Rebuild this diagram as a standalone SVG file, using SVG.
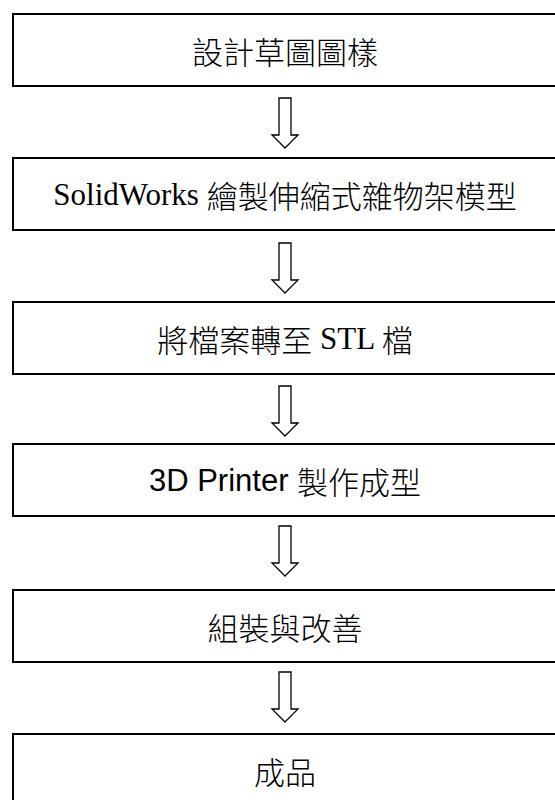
<svg xmlns="http://www.w3.org/2000/svg" width="555" height="800" viewBox="0 0 555 800">
  <style>
    .box { fill: #ffffff; stroke: #000000; stroke-width: 2; }
    .arrow { fill: #ffffff; stroke: #000000; stroke-width: 1.3; stroke-linejoin: miter; }
    .lbl { font-family: "Liberation Serif", "Noto Sans CJK TC", serif; font-size: 31px; fill: #000000; text-anchor: middle; dominant-baseline: central; }
    .sans { font-family: "Liberation Sans", "Noto Sans CJK TC", sans-serif; }
    .cjk { font-family: "Noto Sans CJK TC", serif; font-weight: 300; }
  </style>
  <defs>
    <!-- hollow down arrow, origin at the top centre of the shaft -->
    <path id="downArrow" d="M -6 0 H 6 V 37 H 13 L 0 50 L -13 37 H -6 Z"/>
  </defs>
  <rect width="555" height="800" fill="#ffffff"/>

  <g id="connectors">
    <use href="#downArrow" class="arrow" x="285" y="98"/>
    <use href="#downArrow" class="arrow" x="285" y="243"/>
    <use href="#downArrow" class="arrow" x="285" y="386"/>
    <use href="#downArrow" class="arrow" x="285" y="526"/>
    <use href="#downArrow" class="arrow" x="285" y="672"/>
  </g>

  <g id="step1">
    <rect class="box" x="13" y="14" width="546" height="72"/>
    <text class="lbl" x="285" y="50"><tspan class="cjk">設計草圖圖樣</tspan></text>
  </g>
  <g id="step2">
    <rect class="box" x="13" y="158" width="546" height="72"/>
    <text class="lbl" x="285" y="194">SolidWorks <tspan class="cjk">繪製伸縮式雜物架模型</tspan></text>
  </g>
  <g id="step3">
    <rect class="box" x="13" y="302" width="546" height="72"/>
    <text class="lbl" x="285" y="338"><tspan class="cjk">將檔案轉至</tspan> STL <tspan class="cjk">檔</tspan></text>
  </g>
  <g id="step4">
    <rect class="box" x="13" y="444" width="546" height="72"/>
    <text class="lbl sans" x="285" y="480">3D Printer <tspan class="cjk">製作成型</tspan></text>
  </g>
  <g id="step5">
    <rect class="box" x="13" y="590" width="546" height="72"/>
    <text class="lbl" x="285" y="626"><tspan class="cjk">組裝與改善</tspan></text>
  </g>
  <g id="step6">
    <rect class="box" x="13" y="734" width="546" height="80"/>
    <text class="lbl" x="285" y="770"><tspan class="cjk">成品</tspan></text>
  </g>
</svg>
